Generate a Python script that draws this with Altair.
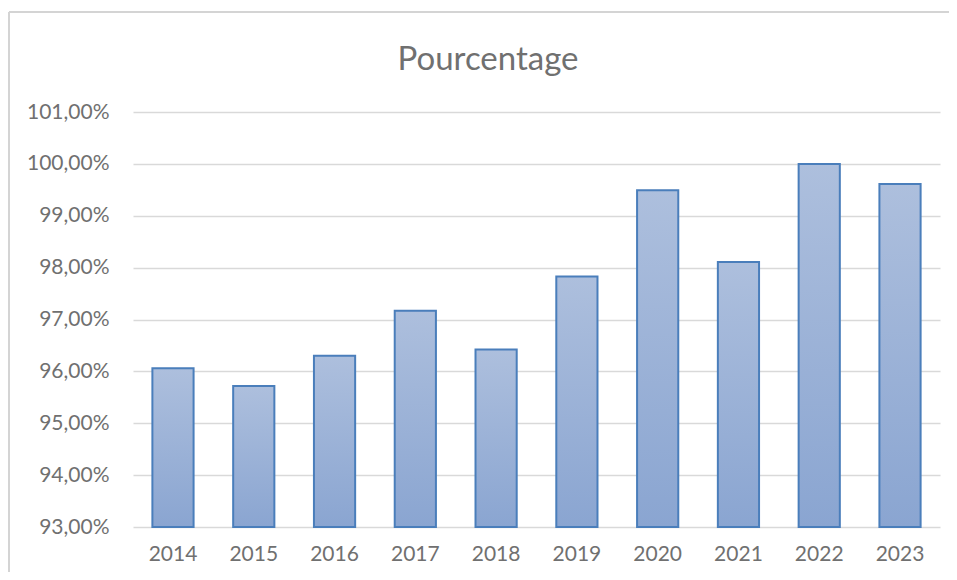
import altair as alt
import pandas as pd

years = ["2014", "2015", "2016", "2017", "2018", "2019", "2020", "2021", "2022", "2023"]
values = [96.06, 95.72, 96.30, 97.17, 96.42, 97.83, 99.49, 98.11, 100.00, 99.61]
y_ticks = [93, 94, 95, 96, 97, 98, 99, 100, 101]
title_text = ["Pourcentage"]

df = pd.DataFrame({"Année": years, "Pourcentage": values})

FONT = "Lato"
TXT = "#707070"
BORDER = "#d4d4d4"

one = alt.Data(values=[{}])
frame_top = alt.Chart(one).mark_rule(stroke=BORDER, strokeWidth=2).encode(
    x=alt.value(-124), x2=alt.value(830), y=alt.value(-100)
)
frame_left = alt.Chart(one).mark_rule(stroke=BORDER, strokeWidth=2).encode(
    x=alt.value(-124), y=alt.value(-100), y2=alt.value(470)
)

title = alt.Chart(pd.DataFrame({"t": title_text})).mark_text(
    font=FONT, fontSize=33, color=TXT, baseline="alphabetic", align="center"
).encode(
    text="t:N", x=alt.value(355), y=alt.value(-42)
)

bars = alt.Chart(df).mark_bar(
    color=alt.Gradient(
        gradient="linear",
        stops=[alt.GradientStop(color="#adbfdd", offset=0),
               alt.GradientStop(color="#8aa5d1", offset=1)],
        x1=0, x2=0, y1=0, y2=1,
    ),
    stroke="#4a7ebb",
    strokeWidth=2,
).encode(
    x=alt.X("Année:N", sort=years,
            scale=alt.Scale(paddingInner=0.49, paddingOuter=0.24),
            axis=alt.Axis(title=None, labelAngle=0, ticks=False, domain=False,
                          labelPadding=16, labelFontSize=21, labelColor=TXT,
                          labelFont=FONT, grid=False)),
    y=alt.Y("Pourcentage:Q",
            scale=alt.Scale(domain=[93, 101], zero=False, nice=False),
            axis=alt.Axis(title=None, values=y_ticks, ticks=False, domain=False,
                          labelExpr="replace(format(datum.value/100, '.2%'), '.', ',')",
                          labelPadding=24, labelFontSize=21, labelColor=TXT,
                          labelFont=FONT, gridColor="#d9d9d9", gridWidth=1.3)),
    y2=alt.datum(93),
)

chart = alt.layer(frame_top, frame_left, bars, title).properties(
    width=807,
    height=415,
    autosize=alt.AutoSizeParams(type="none"),
    padding={"left": 125, "top": 104, "right": 9, "bottom": 45},
).configure_view(stroke=None)

chart.save("out.html", embed_options={"renderer": "svg", "actions": False})
